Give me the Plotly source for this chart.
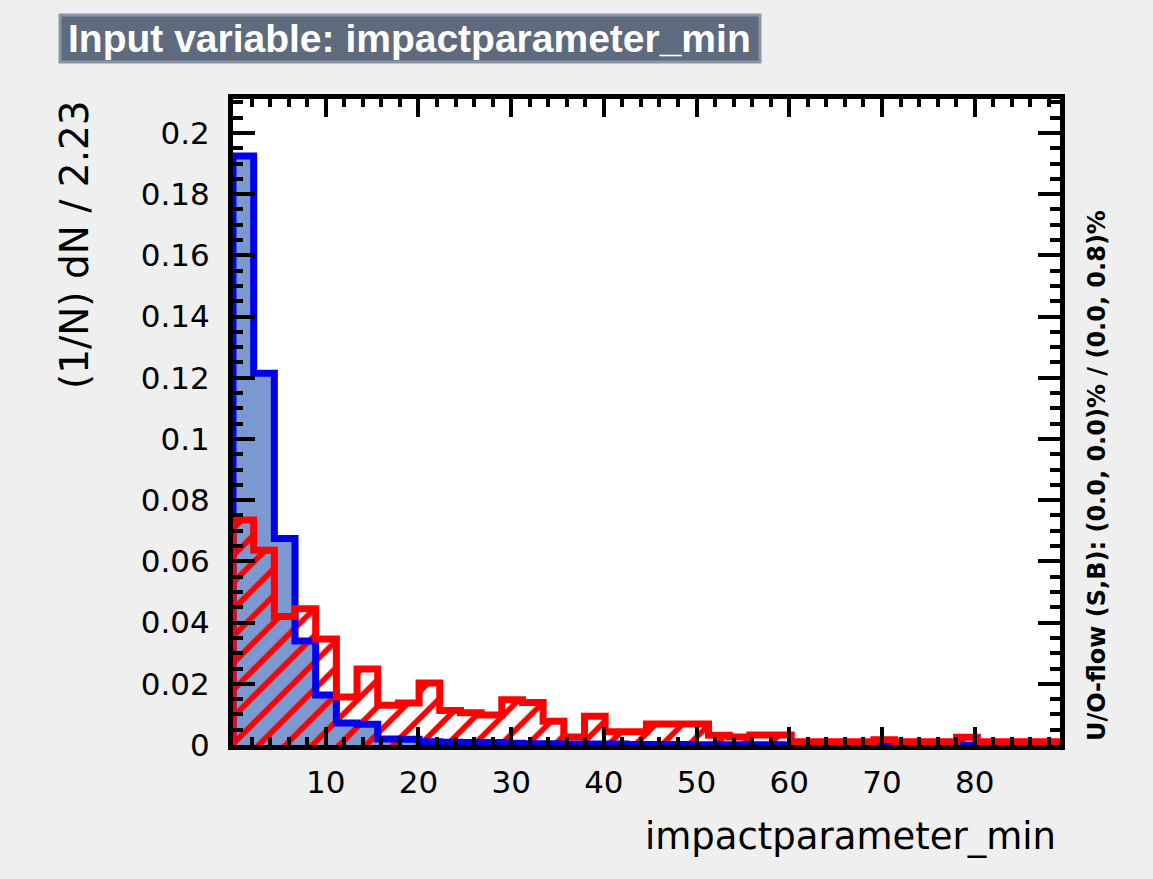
import plotly.graph_objects as go

# ---------------- data ----------------
bin_width = 2.23
n_bins = 40
signal = [0.1925, 0.1215, 0.0675, 0.0340, 0.0163, 0.0072, 0.0068, 0.0020, 0.0019, 0.0011,
          0.0009, 0.0008, 0.0008, 0.0006, 0.0004, 0.0004, 0.0003, 0.0003, 0.0003, 0.0002,
          0.0002, 0.0002, 0.0001, 0.0001, 0.0001, 0.0001, 0.0001, 0.0000, 0.0000, 0.0000,
          0.0000, 0.0000, 0.0000, 0.0000, 0.0000, 0.0000, 0.0000, 0.0000, 0.0000, 0.0000]
background = [0.0735, 0.0636, 0.0420, 0.0445, 0.0346, 0.0157, 0.0248, 0.0130, 0.0137, 0.0203,
              0.0113, 0.0105, 0.0098, 0.0148, 0.0139, 0.0078, 0.0026, 0.0094, 0.0043, 0.0043,
              0.0069, 0.0069, 0.0069, 0.0032, 0.0026, 0.0033, 0.0033, 0.0011, 0.0011, 0.0011,
              0.0011, 0.0017, 0.0011, 0.0011, 0.0011, 0.0025, 0.0011, 0.0011, 0.0011, 0.0011]
x_tickvals = [10, 20, 30, 40, 50, 60, 70, 80]

edges = [i * bin_width for i in range(n_bins + 1)]
centers = [(edges[i] + edges[i + 1]) / 2 for i in range(n_bins)]
x_max = edges[-1]
y_max = 0.2111

# pixel geometry of plot area
L, R, T, B = 233, 1060, 99, 745
W, H = R - L, B - T


def px(x):
    return (x - L) / W


def py(y):
    return (B - y) / H


def step(vals):
    xs = [edges[0]] + edges + [edges[-1]]
    ys = [0] + list(vals) + [vals[-1], 0]
    return xs, ys


fig = go.Figure()
fig.add_trace(go.Bar(x=centers, y=signal, width=bin_width,
                     marker=dict(color="#7b98d0", line=dict(width=0)),
                     showlegend=False))
sx, sy = step(signal)
fig.add_trace(go.Scatter(x=sx, y=sy, mode="lines", line=dict(color="#0000ee", width=7, shape="hv"),
                         showlegend=False))
fig.add_trace(go.Bar(x=centers, y=background, width=bin_width,
                     marker=dict(color="rgba(0,0,0,0)", line=dict(width=0),
                                 pattern=dict(shape="/", fgcolor="#ff0000", bgcolor="rgba(0,0,0,0)",
                                              fgopacity=1, size=19, solidity=0.3, fillmode="overlay")),
                     showlegend=False))
bx, by = step(background)
fig.add_trace(go.Scatter(x=bx, y=by, mode="lines", line=dict(color="#ff0000", width=7, shape="hv"),
                         showlegend=False))

tickfont = dict(family="DejaVu Sans", size=31, color="black")
fig.update_layout(
    width=1153, height=879,
    margin=dict(l=L, r=1153 - R, t=T, b=879 - B),
    paper_bgcolor="#efefef", plot_bgcolor="white",
    barmode="overlay", bargap=0,
    xaxis=dict(range=[0, x_max], tickmode="array", tickvals=x_tickvals,
               ticks="inside", ticklen=18, tickwidth=4, tickcolor="black",
               showline=True, linewidth=5, linecolor="black", mirror="allticks",
               showgrid=False, zeroline=False, tickfont=tickfont, ticklabelstandoff=6,
               minor=dict(tick0=0, dtick=2, ticks="inside", ticklen=8, tickwidth=4,
                          tickcolor="black", showgrid=False)),
    yaxis=dict(range=[0, y_max], tickmode="linear", tick0=0, dtick=0.02,
               ticks="inside", ticklen=22, tickwidth=4, tickcolor="black",
               showline=True, linewidth=5, linecolor="black", mirror="allticks",
               showgrid=False, zeroline=False, tickfont=tickfont, ticklabelstandoff=12,
               minor=dict(tick0=0, dtick=0.005, ticks="inside", ticklen=10, tickwidth=4,
                          tickcolor="black", showgrid=False)),
)

# title box
fig.add_shape(type="rect", xref="paper", yref="paper",
              x0=px(60), x1=px(760), y0=py(62), y1=py(15),
              fillcolor="#5e6a7d", line=dict(color="#8994a6", width=3), layer="above")
fig.add_annotation(xref="paper", yref="paper", x=px(66), y=py(38), xanchor="left", yanchor="middle",
                   text="<b>Input variable: impactparameter_min</b>", showarrow=False,
                   font=dict(family="Liberation Sans", size=39, color="white"))
# axis titles
fig.add_annotation(xref="paper", yref="paper", x=px(1058), y=py(836), xanchor="right", yanchor="middle",
                   text="impactparameter_min", showarrow=False,
                   font=dict(family="DejaVu Sans", size=37, color="black"))
fig.add_annotation(xref="paper", yref="paper", x=px(75), y=py(245), xanchor="center", yanchor="middle",
                   text="(1/N) dN / 2.23", textangle=-90, showarrow=False,
                   font=dict(family="DejaVu Sans", size=39, color="black"))
fig.add_annotation(xref="paper", yref="paper", x=px(1097), y=py(476), xanchor="center", yanchor="middle",
                   text="<b>U/O-flow (S,B): (0.0, 0.0)% / (0.0, 0.8)%</b>", textangle=-90, showarrow=False,
                   font=dict(family="DejaVu Sans", size=24, color="black"))

fig.write_html("out.html")
